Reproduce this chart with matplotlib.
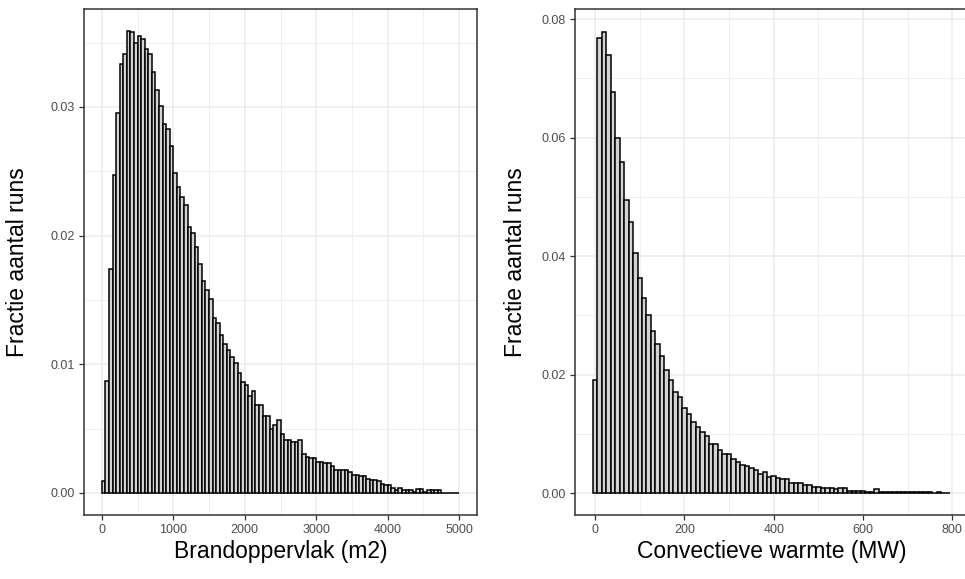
import numpy as np
import matplotlib
matplotlib.use("Agg")
import matplotlib.pyplot as plt
from matplotlib.ticker import MultipleLocator

plt.rcParams['font.family'] = ['Liberation Sans', 'DejaVu Sans']

# Brandoppervlak histogram: bin width 50 m2, starting at 0
area_bin_start = 0
area_bin_width = 50
area_fraction = [
    0.0009, 0.0087, 0.0174, 0.0247, 0.0295, 0.0333, 0.0341, 0.0359, 0.0358, 0.0350,
    0.0355, 0.0353, 0.0345, 0.0341, 0.0327, 0.0313, 0.0301, 0.0287, 0.0283, 0.0270,
    0.0249, 0.0238, 0.0230, 0.0224, 0.0207, 0.0202, 0.0191, 0.0178, 0.0165, 0.0158,
    0.0151, 0.0136, 0.0132, 0.0123, 0.0116, 0.0111, 0.0106, 0.0101, 0.0093, 0.0086,
    0.0084, 0.0075, 0.0079, 0.0068, 0.0068, 0.0060, 0.0060, 0.0050, 0.0053, 0.0057,
    0.0046, 0.0041, 0.0041, 0.0040, 0.0040, 0.0041, 0.0030, 0.0028, 0.0027, 0.0027,
    0.0024, 0.0024, 0.0023, 0.0023, 0.0021, 0.0018, 0.0018, 0.0018, 0.0018, 0.0016,
    0.0014, 0.0014, 0.0013, 0.0013, 0.0011, 0.0010, 0.0010, 0.0009, 0.0007, 0.0006,
    0.0006, 0.0004, 0.0002, 0.0004, 0.0002, 0.0002, 0.0002, 0.0001, 0.0003, 0.0003,
    0.0001, 0.0002, 0.0002, 0.0002, 0.0002, 0.00003, 0.00003, 0.00003, 0.00003, 0.00003,
]

# Convectieve warmte histogram: bin width 10 MW, centred on 0
heat_bin_start = -5
heat_bin_width = 10
heat_fraction = [
    0.0190, 0.0769, 0.0778, 0.0739, 0.0677, 0.0600, 0.0559, 0.0495, 0.0458, 0.0405,
    0.0363, 0.0329, 0.0301, 0.0274, 0.0251, 0.0231, 0.0207, 0.0190, 0.0170, 0.0162,
    0.0143, 0.0133, 0.0120, 0.0112, 0.0103, 0.0096, 0.0082, 0.0082, 0.0072, 0.0066,
    0.0066, 0.0057, 0.0052, 0.0048, 0.0045, 0.0043, 0.0039, 0.0032, 0.0036, 0.0027,
    0.0029, 0.0026, 0.0023, 0.0023, 0.0017, 0.0017, 0.0017, 0.0014, 0.0014, 0.0011,
    0.0011, 0.0008, 0.0008, 0.0008, 0.0006, 0.0008, 0.0008, 0.0004, 0.0004, 0.0004,
    0.0004, 0.0002, 0.0002, 0.0006, 0.0001, 0.0001, 0.0001, 0.0001, 0.0001, 0.0001,
    0.0001, 0.0001, 0.0001, 0.0001, 0.0001, 0.0001, 0.0, 0.0001, 0.00003, 0.00003,
]

y_label = 'Fractie aantal runs'
area_label = 'Brandoppervlak (m2)'
heat_label = 'Convectieve warmte (MW)'


def style_axes(ax, x_major, x_minor, y_major, y_minor):
    """Give an axes the look of ggplot's theme_bw."""
    ax.xaxis.set_major_locator(MultipleLocator(x_major))
    ax.xaxis.set_minor_locator(MultipleLocator(x_minor))
    ax.yaxis.set_major_locator(MultipleLocator(y_major))
    ax.yaxis.set_minor_locator(MultipleLocator(y_minor))
    ax.yaxis.set_major_formatter(lambda v, p: f'{v:.2f}')
    ax.grid(which='major', color='#ebebeb', linewidth=1.1)
    ax.grid(which='minor', color='#ebebeb', linewidth=0.55)
    ax.set_axisbelow(True)
    for spine in ax.spines.values():
        spine.set_color('#333333')
        spine.set_linewidth(1.1)
    ax.tick_params(which='major', direction='out', length=3.5, width=0.9,
                   color='#333333', labelcolor='#4d4d4d', labelsize=9, pad=3)
    ax.tick_params(which='minor', length=0)


def draw_histogram(ax, start, width, values, xlabel, label_x):
    """Draw pre-binned fractions as a histogram."""
    edges = start + width * np.arange(len(values))
    ax.bar(edges, values, width=width, align='edge', color='#d3d3d3',
           edgecolor='black', linewidth=1.1)
    ax.set_xlabel(xlabel, fontsize=16.5, labelpad=3)
    ax.set_ylabel(y_label, fontsize=16.5)
    ax.yaxis.set_label_coords(label_x, 0.5)


fig = plt.figure(figsize=(9.65, 5.79), dpi=100)

ax1 = fig.add_axes([84 / 965, 64 / 579, 393 / 965, 506.5 / 579])
draw_histogram(ax1, area_bin_start, area_bin_width, area_fraction, area_label, -0.14)
style_axes(ax1, 1000, 500, 0.01, 0.005)
ax1.set_xlim(-250, 5250)
ax1.set_ylim(-0.00171, 0.03765)

ax2 = fig.add_axes([575 / 965, 64 / 579, 393 / 965, 506.5 / 579])
draw_histogram(ax2, heat_bin_start, heat_bin_width, heat_fraction, heat_label, -0.122)
style_axes(ax2, 200, 100, 0.02, 0.01)
ax2.set_xlim(-45, 835)
ax2.set_ylim(-0.00371, 0.0818)

fig.savefig('out.png', dpi=100)
